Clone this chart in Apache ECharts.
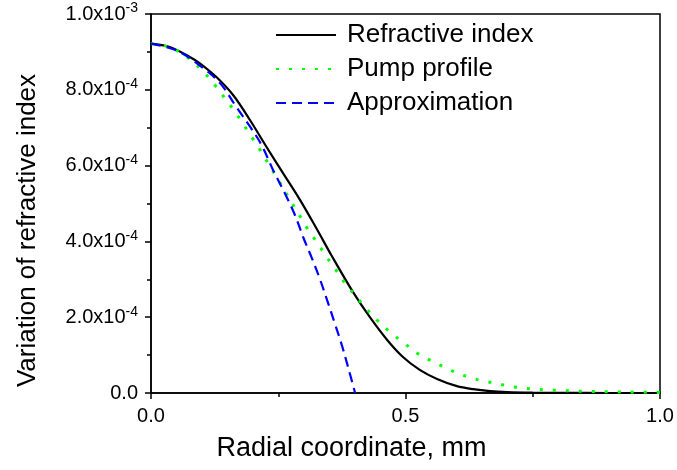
<!DOCTYPE html>
<html>
<head>
<meta charset="utf-8">
<script src="https://cdn.jsdelivr.net/npm/echarts@6/dist/echarts.min.js"></script>
<style>
html,body{margin:0;padding:0;background:#fff;}
#chart{width:677px;height:470px;}
</style>
</head>
<body>
<div id="chart"></div>
<script>
// y values in units of 1e-4
var seriesNames = ['Refractive index', 'Pump profile', 'Approximation'];

var refractiveIndex = [
  [0, 9.22], [0.037, 9.13], [0.077, 8.86], [0.096, 8.70], [0.129, 8.33],
  [0.162, 7.85], [0.195, 7.19], [0.227, 6.49], [0.260, 5.79], [0.293, 5.09],
  [0.326, 4.32], [0.355, 3.62], [0.397, 2.66], [0.430, 2.00], [0.464, 1.40],
  [0.495, 0.95], [0.528, 0.61], [0.562, 0.37], [0.601, 0.18], [0.633, 0.10],
  [0.666, 0.05], [0.70, 0.025], [0.75, 0.01], [0.80, 0.004], [0.90, 0.0], [1.0, 0.0]
];

var pumpProfile = [
  [0, 9.22], [0.024, 9.17], [0.043, 9.09], [0.061, 8.96], [0.077, 8.80],
  [0.102, 8.49], [0.124, 8.15], [0.145, 7.78], [0.164, 7.44], [0.181, 7.10],
  [0.198, 6.75], [0.215, 6.40], [0.230, 6.06], [0.247, 5.69], [0.277, 5.01],
  [0.293, 4.66], [0.308, 4.32], [0.326, 3.98], [0.344, 3.61], [0.361, 3.29],
  [0.380, 2.92], [0.401, 2.58], [0.422, 2.24], [0.446, 1.90], [0.472, 1.58],
  [0.497, 1.32], [0.523, 1.05], [0.549, 0.86], [0.575, 0.69], [0.601, 0.53],
  [0.627, 0.41], [0.652, 0.32], [0.680, 0.25], [0.703, 0.18], [0.731, 0.13],
  [0.756, 0.10], [0.782, 0.08], [0.807, 0.065], [0.833, 0.05], [0.859, 0.04],
  [0.90, 0.03], [0.95, 0.02], [1.0, 0.015]
];

var approximation = [
  [0, 9.22], [0.050, 9.04], [0.096, 8.64], [0.136, 8.17], [0.168, 7.54],
  [0.195, 7.02], [0.217, 6.55], [0.240, 5.88], [0.263, 5.27], [0.283, 4.69],
  [0.299, 4.11], [0.316, 3.56], [0.332, 3.00], [0.346, 2.45], [0.361, 1.84],
  [0.375, 1.26], [0.387, 0.69], [0.401, 0.0]
];

var xTickLabels = {0: '0.0', 0.5: '0.5', 1: '1.0'};
var yTickLabels = [
  ['0.0', ''], ['2.0x10', '-4'], ['4.0x10', '-4'], ['6.0x10', '-4'], ['8.0x10', '-4'], ['1.0x10', '-3']
];

var FONT = 'Liberation Sans, Arial, sans-serif';
var chart = echarts.init(document.getElementById('chart'), null, {renderer: 'canvas'});

chart.setOption({
  animation: false,
  backgroundColor: '#fff',
  grid: {
    left: 151, right: 17, top: 14, bottom: 77,
    show: true, borderColor: '#000', borderWidth: 1.5, backgroundColor: 'transparent'
  },
  legend: {
    orient: 'vertical',
    left: 275, top: 22, padding: 0,
    itemWidth: 60, itemHeight: 14, itemGap: 8,
    itemStyle: {color: 'transparent', borderColor: 'transparent', borderWidth: 0},
    textStyle: {fontFamily: FONT, fontSize: 26, color: '#000', lineHeight: 26, padding: [0, 0, 0, 6]},
    data: seriesNames
  },
  xAxis: {
    type: 'value', min: 0, max: 1, interval: 0.5,
    name: 'Radial coordinate, mm', nameLocation: 'middle', nameGap: 42,
    nameTextStyle: {fontFamily: FONT, fontSize: 27, color: '#000', padding: [0, 108, 0, 0]},
    axisLine: {show: true, lineStyle: {color: '#000', width: 1.5}},
    axisTick: {show: true, inside: false, length: 6, lineStyle: {color: '#000', width: 1.5}},
    minorTick: {show: true, splitNumber: 2, length: 4, lineStyle: {color: '#000', width: 1.5}},
    splitLine: {show: false},
    axisLabel: {
      margin: 13, fontFamily: FONT, fontSize: 20, color: '#000',
      formatter: function (v) { return xTickLabels[v] !== undefined ? xTickLabels[v] : ''; }
    }
  },
  yAxis: {
    type: 'value', min: 0, max: 10, interval: 2,
    name: 'Variation of refractive index', nameLocation: 'middle', nameGap: 110, nameRotate: 90,
    nameTextStyle: {fontFamily: FONT, fontSize: 26, color: '#000', padding: [0, 54, 0, 0]},
    axisLine: {show: true, lineStyle: {color: '#000', width: 1.5}},
    axisTick: {show: true, inside: false, length: 6, lineStyle: {color: '#000', width: 1.5}},
    minorTick: {show: true, splitNumber: 2, length: 4, lineStyle: {color: '#000', width: 1.5}},
    splitLine: {show: false},
    axisLabel: {
      margin: 13, fontFamily: FONT, fontSize: 20, color: '#000',
      formatter: function (v) {
        var t = yTickLabels[Math.round(v / 2)];
        if (!t) return '';
        return t[1] ? '{b|' + t[0] + '}{s|' + t[1] + '}' : '{b|' + t[0] + '}';
      },
      rich: {
        b: {fontFamily: FONT, fontSize: 20, color: '#000'},
        s: {fontFamily: FONT, fontSize: 14, color: '#000', padding: [0, 0, 11, 0]}
      }
    }
  },
  series: [
    {
      name: seriesNames[0], type: 'line', data: refractiveIndex, smooth: 0.35,
      symbol: 'none', lineStyle: {color: '#000', width: 2.2, type: 'solid'}, itemStyle: {color: '#000'}
    },
    {
      name: seriesNames[1], type: 'line', data: pumpProfile, smooth: 0.35,
      symbol: 'none', lineStyle: {color: '#00ff00', width: 3, type: [3, 10]}, itemStyle: {color: '#00ff00'}
    },
    {
      name: seriesNames[2], type: 'line', data: approximation, smooth: 0.35,
      symbol: 'none', lineStyle: {color: '#0000ff', width: 2.2, type: [10, 6]}, itemStyle: {color: '#0000ff'}
    }
  ]
});
</script>
</body>
</html>
